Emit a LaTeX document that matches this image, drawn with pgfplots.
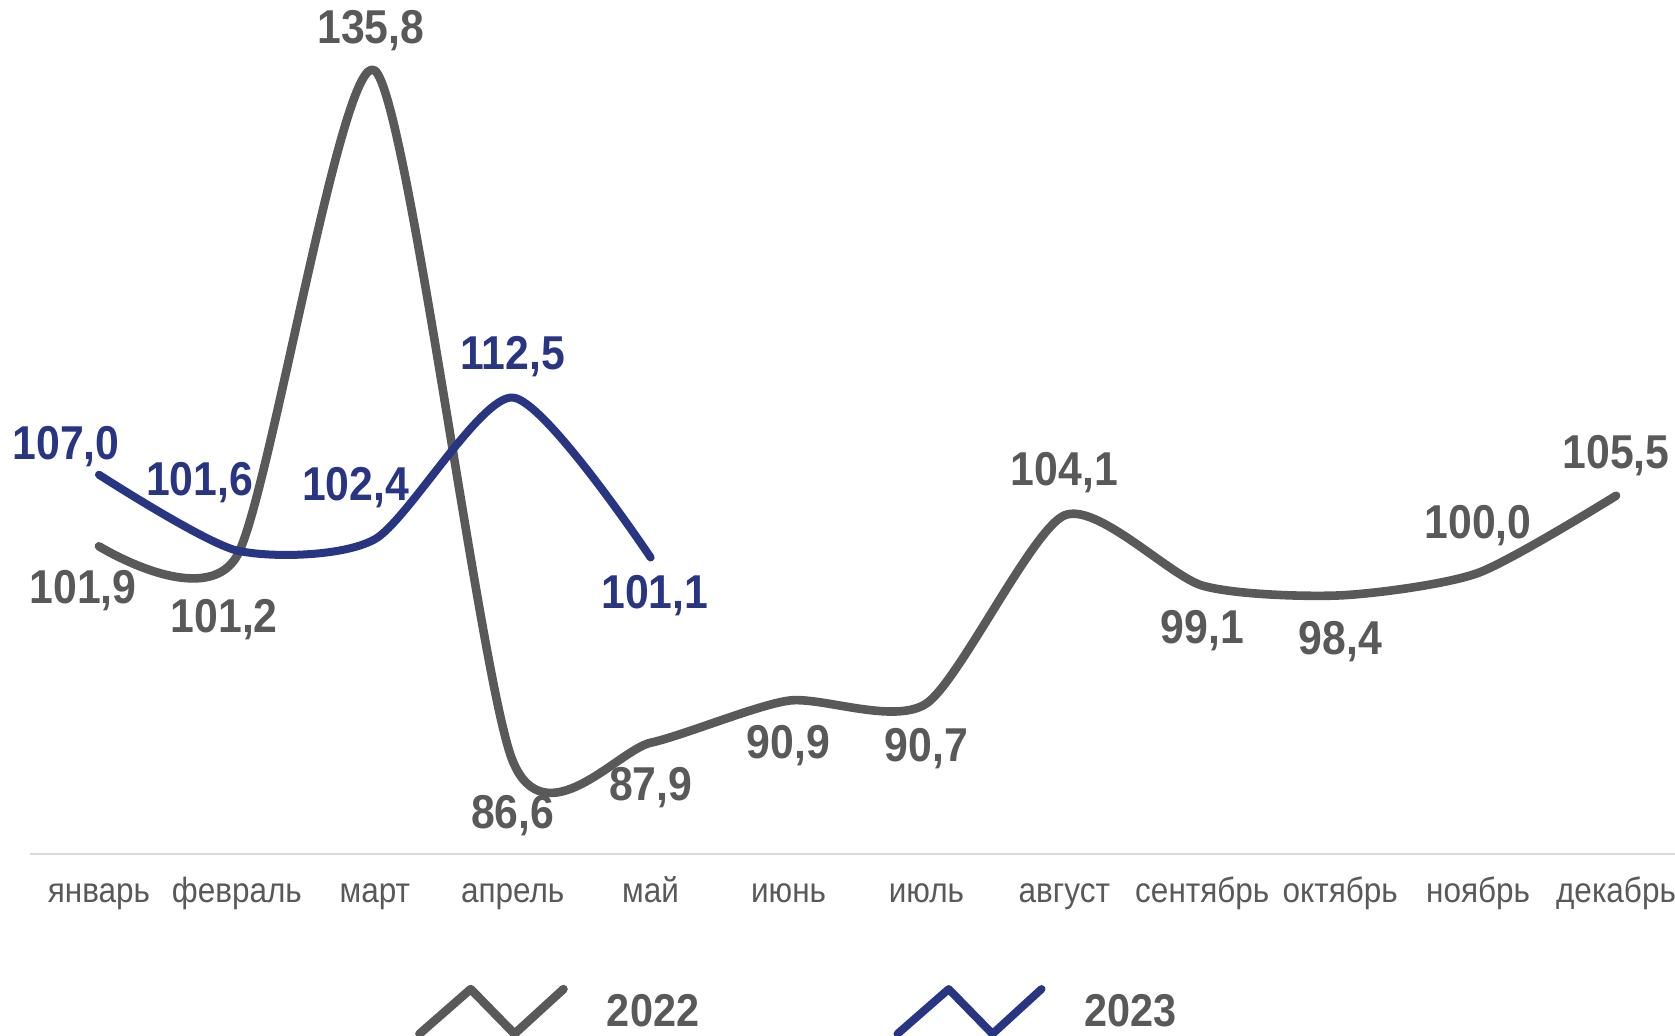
\documentclass[border=0pt]{standalone}
\usepackage{fontspec}
\setmainfont[FakeStretch=0.9]{Liberation Sans}
\usepackage{pgfplots}
\usepackage{pgfplotstable}
\pgfplotsset{compat=1.18}

\definecolor{grayline}{HTML}{595959}
\definecolor{navy}{HTML}{283583}
\definecolor{axisgray}{HTML}{D9D9D9}

% month index, value, label text, label offset (pt)
\pgfplotstableread{
x y lbl dx dy
0 101.9 101,9 -7.9 -22.4
1 101.2 101,2 -6.3 -31.9
2 135.8 135,8 -2.0 19.9
3 86.6 86,6 0 -27.5
4 87.9 87,9 0 -22.4
5 90.9 90,9 0 -22.6
6 90.7 90,7 0 -22.8
7 104.1 104,1 0 21.4
8 99.1 99,1 0 -22.6
9 98.4 98,4 0 -23.0
10 100.0 100,0 0 23.5
11 105.5 105,5 0 20.2
}\dataA

\pgfplotstableread{
x y lbl dx dy
0 107.0 107,0 -16.4 13.9
1 101.6 101,6 -18.6 33.7
2 102.4 102,4 -9.6 26.0
3 112.5 112,5 0 20.7
4 101.1 101,1 2.1 -19.0
}\dataB

\pgfplotsset{
  lbls/.style={
    point meta=explicit symbolic,
    visualization depends on={\thisrow{dx} \as \lblx},
    visualization depends on={\thisrow{dy} \as \lbly},
    nodes near coords,
    every node near coord/.append style={anchor=center, xshift=\lblx pt, yshift=\lbly pt,
      font=\bfseries\fontsize{23.75}{28}\selectfont, text=#1},
  }
}

\begin{document}
\begin{tikzpicture}
\begin{axis}[
scale only axis,
width=827.5pt, height=421pt,
xmin=-0.5, xmax=11.5,
ymin=80, ymax=140,
clip=false,
axis y line=none,
axis x line=bottom,
x axis line style={-, draw=axisgray, line width=1pt},
xtick={0,...,11},
xticklabels={январь,февраль,март,апрель,май,июнь,июль,август,сентябрь,октябрь,ноябрь,декабрь},
major tick length=0pt,
xticklabel style={font=\fontsize{17.5}{20}\selectfont, text=grayline, anchor=base, yshift=-24.5pt},
legend columns=2,
legend image code/.code={\draw[#1] (0pt,-11.2pt) -- (25.6pt,11.2pt) -- (47.5pt,-11.2pt) -- (72pt,11.2pt);},
legend style={draw=none, fill=none, inner sep=0pt,
  at={(0.2325,-0.1875)}, anchor=west,
  nodes={inner sep=0pt, text=grayline, font=\bfseries\fontsize{23}{27}\selectfont},
  /tikz/every odd column/.append style={column sep=19.6pt},
  /tikz/every even column/.append style={column sep=97.2pt}},
]
\addplot[grayline, line width=4.3pt, smooth, tension=0.42, line cap=round, line join=round,
  lbls=grayline]
  table[x=x, y=y, meta=lbl] {\dataA};
\addlegendentry{2022}
\addplot[navy, line width=4pt, smooth, tension=0.42, line cap=round, line join=round,
  lbls=navy]
  table[x=x, y=y, meta=lbl] {\dataB};
\addlegendentry{2023}
\end{axis}
\pgfresetboundingbox
\path (-15pt,-90.7pt) rectangle (822.5pt,426.8pt);
\end{tikzpicture}
\end{document}
